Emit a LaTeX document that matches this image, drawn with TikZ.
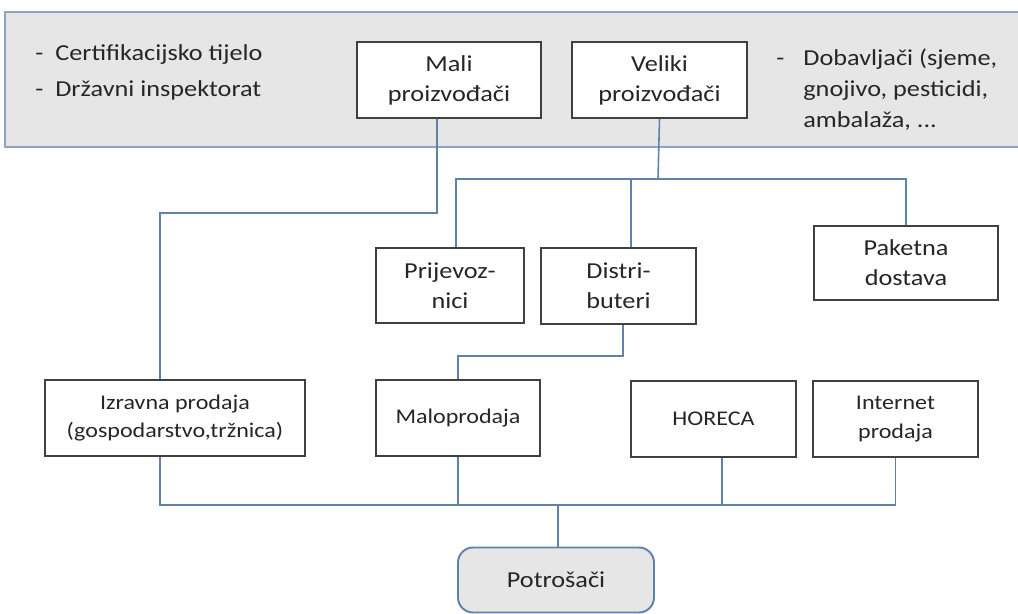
\documentclass[tikz,border=0pt]{standalone}
\usepackage{fontspec}
\setmainfont{Carlito}[FakeStretch=1.15]
\usepackage{tikz}

\definecolor{linkblue}{RGB}{95,130,170}
\definecolor{bandgray}{RGB}{231,230,230}
\definecolor{bandedge}{RGB}{140,165,195}

\begin{document}
\begin{tikzpicture}[x=0.02cm, y=-0.02cm,
  box/.style={draw=black!75, line width=1.1pt, fill=white, align=center, inner sep=0pt,
    minimum height=1.52cm, font=\fontsize{13}{17}\selectfont, text=black!85},
  shop/.style={box, font=\fontsize{11.9}{16.4}\selectfont},
  txt/.style={inner sep=0pt, font=\fontsize{13}{17.6}\selectfont, text=black!85},
  link/.style={draw=linkblue, line width=0.9pt}]
\useasboundingbox (0,0) rectangle (1018,613);
% gornji pojas
\draw[fill=bandgray, draw=bandedge, line width=1.2pt] (1030,12) -- (5,12) -- (5,147) -- (1030,147);
\node[txt, anchor=base west] (certif) at (35,60) {\makebox[0.4cm][l]{-}Certifikacijsko tijelo};
\node[txt, anchor=base west] (inspek) at (35,96) {\makebox[0.4cm][l]{-}Državni inspektorat};
\node[txt, anchor=base west] (crtica) at (776,65) {-};
\node[txt, anchor=base west] (dobav1) at (803,65) {Dobavljači (sjeme,};
\node[txt, anchor=base west] (dobav2) at (803,96) {gnojivo, pesticidi,};
\node[txt, anchor=base west] (dobav3) at (803,127) {ambalaža, ...};

% proizvodjaci
\node[box, minimum width=3.68cm] (mali) at (449,80) {Mali\\proizvođači};
\node[box, minimum width=3.5cm] (veliki) at (659.5,80) {Veliki\\proizvođači};

% posrednici
\node[box, minimum width=2.96cm, minimum height=1.5cm] (prijevoz) at (450,285.5) {Prijevoz-\\nici};
\node[box, minimum width=3.1cm] (distri) at (618.5,286) {Distri-\\buteri};
\node[box, minimum width=3.68cm, minimum height=1.48cm] (paketna) at (906,263) {Paketna\\dostava};

% prodaja
\node[shop, minimum width=5.2cm] (izravna) at (175,418) {Izravna prodaja\\(gospodarstvo,tržnica)};
\node[shop, minimum width=3.28cm] (malo) at (458,418) {Maloprodaja};
\node[shop, minimum width=3.3cm] (horeca) at (713.5,419) {HORECA};
\node[shop, minimum width=3.3cm] (internet) at (895.5,419) {Internet\\prodaja};

\node[box, draw=linkblue, fill=bandgray, rounded corners=0.3cm, minimum width=3.92cm,
  minimum height=1.3cm] (potrosaci) at (556,580) {Potrošači};

% veze
\coordinate (split) at (658,179);
\coordinate (join) at (558,505);
\draw[link] ([xshift=-0.24cm]mali.south) -- ++(0,94) -| ([xshift=-0.3cm]izravna.north);
\draw[link] (veliki.south) -- (split);
\draw[link] ([xshift=0.12cm]prijevoz.north) |- (split) -| (paketna.north);
\draw[link] ([xshift=0.25cm]distri.north) |- (split);
\draw[link] ([xshift=0.09cm]distri.south) -- ++(0,31) -| (malo.north);
\draw[link] ([xshift=-0.3cm]izravna.south) |- (join);
\draw[link] (malo.south) |- (join);
\draw[link] ([xshift=0.17cm]horeca.south) |- (join);
\draw[link] (internet.south) |- (join);
\draw[link] (join) -- (join |- potrosaci.north);
\end{tikzpicture}
\end{document}
